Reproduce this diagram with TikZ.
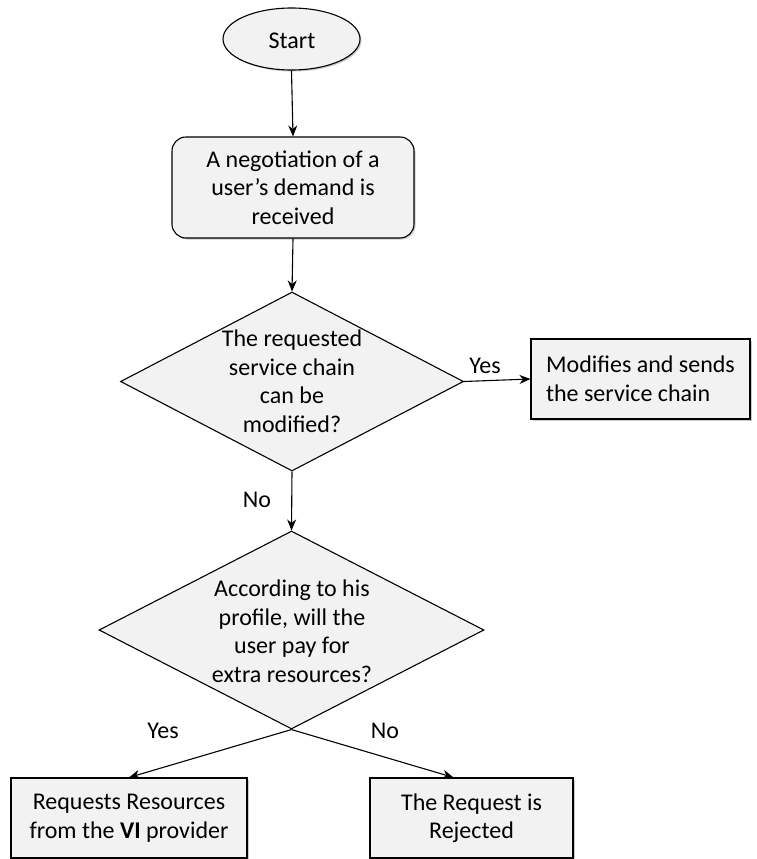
\documentclass[tikz,border=0pt]{standalone}
\usepackage{fontspec}
\setmainfont{Carlito}
\usetikzlibrary{shapes.geometric,arrows.meta,shadows,positioning}
\definecolor{boxfill}{HTML}{F2F2F2}
\begin{document}
\begin{tikzpicture}[x=1pt,y=-1pt,
  every node/.style={font=\fontsize{24}{28.5}\selectfont, inner sep=0pt},
  base/.style={draw=black, line width=1.1pt, fill=boxfill},
  shade/.style={drop shadow={shadow xshift=1.5pt, shadow yshift=-1.5pt, opacity=0.35, fill=black!60}},
  terminal/.style={base, shade, ellipse, minimum width=137pt, minimum height=62pt},
  roundbox/.style={base, shade, rectangle, rounded corners=14pt, align=center},
  plainbox/.style={base, shade, rectangle, align=center},
  decision/.style={base, diamond, minimum width=#1},
  flow/.style={line width=1.1pt, -{Stealth[length=11pt,width=9pt,inset=3.5pt]}},
  answer/.style={text=black}
]
\useasboundingbox (0,0) rectangle (757,859);

% terminal and process steps
\node[terminal] (start) at (291.5,39) {};
\node (starttext) at (292,41) {Start};

\node[roundbox, minimum width=242pt, minimum height=101pt] (recv) at (293,187.5)
  {A negotiation of a\\user’s demand is\\received};

% first decision
\node[decision=343pt, minimum height=179pt] (chain) at (292,381.5) {};
\node[align=center] (chaintext) at (292,381) {The requested\\service chain\\can be\\modified?};

\node[plainbox, minimum width=219pt, minimum height=80pt, align=left] (modify) at (640.5,379)
  {Modifies and sends\\the service chain};

% second decision
\node[decision=385pt, minimum height=198pt] (pay) at (291.5,630) {};
\node[align=center] (paytext) at (292,631) {According to his\\profile, will the\\user pay for\\extra resources?};

% outcomes
\node[plainbox, minimum width=236pt, minimum height=80pt] (request) at (129,818)
  {Requests Resources\\from the \textbf{VI} provider};
\node[plainbox, minimum width=203pt, minimum height=80pt] (reject) at (471.5,818)
  {The Request is\\Rejected};

% connectors
\draw[flow] (start.south) -- (recv.north);
\draw[flow] (recv.south) -- (chain.north);
\draw[flow] (chain.east) -- (modify.west);
\draw[flow] (chain.south) -- (pay.north);
\draw[flow] (pay.south) -- (request.north);
\draw[flow] (pay.south) -- ([xshift=-18pt]reject.north);

% branch labels
\node[answer] (yes1) at (485,366) {Yes};
\node[answer] (no1) at (257,500) {No};
\node[answer] (yes2) at (163,731) {Yes};
\node[answer] (no2) at (385,731) {No};
\end{tikzpicture}
\end{document}
